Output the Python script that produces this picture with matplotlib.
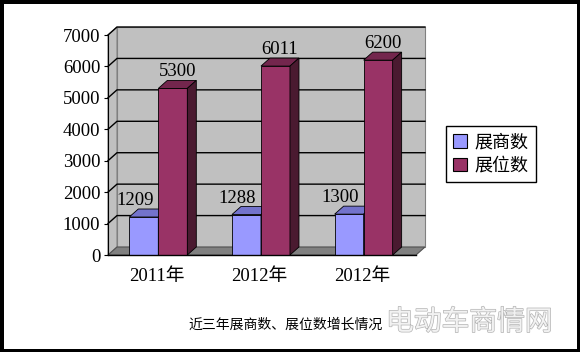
import matplotlib
matplotlib.use('Agg')
import matplotlib.pyplot as plt
from matplotlib.patches import Polygon, Patch
import matplotlib.patheffects as pe
import numpy as np

# ---- data ----
categories = ['2011年', '2012年', '2012年']
exhibitors = [1209, 1288, 1300]      # 展商数
booths = [5300, 6011, 6200]          # 展位数
series_names = ['展商数', '展位数']
yticks = [0, 1000, 2000, 3000, 4000, 5000, 6000, 7000]
title = '近三年展商数、展位数增长情况'
watermark = '电动车商情网'

# ---- style ----
W, H = 580, 352
BLUE, BLUE_TOP, BLUE_SIDE = '#9999FF', '#7373CC', '#5C5C99'
RED, RED_TOP, RED_SIDE = '#993366', '#73264D', '#4A1A30'
WALL, FLOOR, EDGE = '#C0C0C0', '#808080', '#808080'
NUMFONT = ['Liberation Serif', 'Noto Sans CJK SC']
CJK = ['Noto Sans CJK SC', 'DejaVu Sans']

fig = plt.figure(figsize=(W / 100, H / 100), dpi=100, facecolor='white',
                 edgecolor='black', linewidth=5)
ax = fig.add_axes([108 / W, 1 - 255 / H, 308 / W, 220 / H])
n = len(categories)
ymax = yticks[-1]
ax.set_xlim(0, n)
ax.set_ylim(0, ymax)
ax.patch.set_visible(False)
for s in ['top', 'right', 'bottom']:
    ax.spines[s].set_visible(False)
ax.spines['left'].set_color('black')
ax.spines['left'].set_linewidth(0.8)
ax.spines['left'].set_zorder(6)

# depth offset (pixels -> data)
DXP, DYP = 9, 8
dx = DXP * n / 308
dy = DYP * ymax / 220

# walls and floor
ax.add_patch(Polygon([(dx, dy), (n + dx, dy), (n + dx, ymax + dy), (dx, ymax + dy)],
                     closed=True, fc=WALL, ec=EDGE, lw=0.8, clip_on=False, zorder=0))
ax.add_patch(Polygon([(0, 0), (dx, dy), (dx, ymax + dy), (0, ymax)],
                     closed=True, fc=WALL, ec=EDGE, lw=0.8, clip_on=False, zorder=0))
ax.add_patch(Polygon([(0, 0), (n, 0), (n + dx, dy), (dx, dy)],
                     closed=True, fc=FLOOR, ec='#505050', lw=0.8, clip_on=False, zorder=0.5))
for t in yticks[1:]:
    ax.plot([0, dx, n + dx], [t, t + dy, t + dy], color='black', lw=1.0,
            clip_on=False, zorder=1)
ax.plot([0, n], [0, 0], color='black', lw=1.0, clip_on=False, zorder=5)

# bars
w = 0.2825
centers = np.arange(n) + 0.49


def draw_bar(x0, v, front, top, side, z):
    ax.bar([x0], [v], width=w, align='edge', color=front, edgecolor='black',
           linewidth=0.6, zorder=z, clip_on=False)
    ax.add_patch(Polygon([(x0, v), (x0 + w, v), (x0 + w + dx, v + dy), (x0 + dx, v + dy)],
                         closed=True, fc=top, ec='black', lw=0.6, clip_on=False, zorder=z))
    ax.add_patch(Polygon([(x0 + w, 0), (x0 + w, v), (x0 + w + dx, v + dy), (x0 + w + dx, dy)],
                         closed=True, fc=side, ec='black', lw=0.6, clip_on=False, zorder=z))


for i in range(n):
    xb = centers[i] - w
    xr = centers[i]
    draw_bar(xb, exhibitors[i], BLUE, BLUE_TOP, BLUE_SIDE, 2 + i * 0.1)
    draw_bar(xr, booths[i], RED, RED_TOP, RED_SIDE, 3 + i * 0.1)
    ax.annotate(str(exhibitors[i]), xy=(xb + w / 2, exhibitors[i] + dy),
                xytext=(-9, 0), textcoords='offset pixels', ha='center', va='bottom',
                fontsize=13.5, family=NUMFONT, color='black', zorder=7,
                annotation_clip=False)
    ax.annotate(str(booths[i]), xy=(xr + w / 2 + dx / 2, booths[i] + dy),
                xytext=(0, 0), textcoords='offset pixels', ha='center', va='bottom',
                fontsize=13.5, family=NUMFONT, color='black', zorder=7,
                annotation_clip=False)

# axes ticks
ax.set_yticks(yticks)
ax.set_yticklabels([str(t) for t in yticks], fontsize=13.5, family=NUMFONT)
ax.tick_params(axis='y', direction='out', length=3, width=0.8, pad=2.5)
ax.set_xticks(centers - 0.015)
ax.set_xticklabels(categories, fontsize=13.5, family=NUMFONT)
ax.tick_params(axis='x', length=0, pad=9)

# legend
handles = [Patch(fc=BLUE, ec='black', lw=0.8), Patch(fc=RED, ec='black', lw=0.8)]
leg = fig.legend(handles, series_names, loc='upper left',
                 bbox_to_anchor=(446 / W, 1 - 126 / H), frameon=True, fancybox=False,
                 edgecolor='black', framealpha=1, prop={'family': CJK, 'size': 13},
                 handlelength=0.75, handleheight=0.75, handletextpad=0.45,
                 borderpad=0.4, labelspacing=0.3, borderaxespad=0)
leg.get_frame().set_linewidth(1.0)

# title and watermark
fig.text(188 / W, 1 - 325 / H, title, fontsize=10, family=CJK, ha='left', va='center')
fig.text(386 / W, 1 - 322 / H, watermark, fontsize=20, family=CJK, ha='left', va='center',
         color='#f2f2f2',
         path_effects=[pe.withStroke(linewidth=1.0, foreground='#b4b4b4')])

fig.savefig('out.png', dpi=100, facecolor=fig.get_facecolor(), edgecolor=fig.get_edgecolor())
